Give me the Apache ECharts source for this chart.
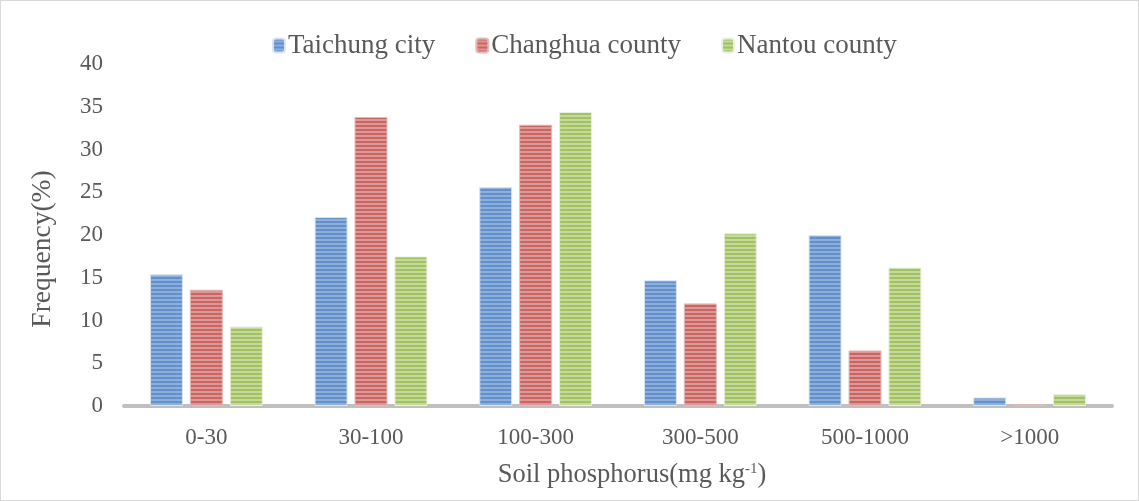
<!DOCTYPE html>
<html>
<head>
<meta charset="utf-8">
<script src="https://cdn.jsdelivr.net/npm/echarts@6/dist/echarts.min.js"></script>
<style>
  html, body { margin: 0; padding: 0; background: #fff; }
  #chart { width: 1139px; height: 501px; box-sizing: border-box; border: 1px solid #d9d9d9; }
</style>
</head>
<body>
<div id="chart"></div>
<script>
var categories = ["0-30", "30-100", "100-300", "300-500", "500-1000", ">1000"];
var taichung = [15.4, 22.1, 25.6, 14.7, 20.0, 1.0];
var changhua = [13.6, 33.8, 32.9, 12.0, 6.5, 0.2];
var nantou = [9.3, 17.5, 34.4, 20.2, 16.2, 1.4];

// horizontal stripe fill, like the original Excel pattern
function stripes(dark, light) {
  var c = document.createElement("canvas");
  c.width = 4;
  c.height = 4;
  var ctx = c.getContext("2d");
  ctx.fillStyle = light;
  ctx.fillRect(0, 0, 4, 4);
  ctx.fillStyle = dark;
  ctx.fillRect(0, 0, 4, 2);
  return { image: c, repeat: "repeat" };
}

var blue = stripes("#6390cb", "#8cafdc");
var red = stripes("#c96662", "#dc9896");
var green = stripes("#a2c160", "#c5d99d");

var myChart = echarts.init(document.getElementById("chart"));
var font = "Liberation Serif, Times New Roman, serif";

var option = {
  animation: false,
  legend: {
    top: 26,
    left: 266,
    itemWidth: 12,
    itemHeight: 14,
    itemGap: 40,
    textStyle: { fontFamily: font, fontSize: 27, color: "#595959", padding: [0, 0, 0, -2] },
    data: ["Taichung city", "Changhua county", "Nantou county"]
  },
  grid: { left: 123, right: 26, top: 63, bottom: 94 },
  xAxis: {
    type: "category",
    data: categories,
    axisLine: { lineStyle: { color: "#bfbfbf", width: 4 } },
    axisTick: { show: false },
    axisLabel: { fontFamily: font, fontSize: 23, color: "#595959", margin: 20 },
    name: "Soil phosphorus(mg kg{sup|-1})",
    nameLocation: "middle",
    nameGap: 56,
    nameTextStyle: {
      fontFamily: font, fontSize: 26.5, color: "#595959", padding: [0, 0, 0, 28],
      rich: { sup: { fontFamily: font, fontSize: 15, color: "#595959", verticalAlign: "top", padding: [0, 0, 10, 0] } }
    }
  },
  yAxis: {
    type: "value",
    min: 0,
    max: 40,
    interval: 5,
    splitLine: { show: false },
    axisLine: { show: false },
    axisTick: { show: false },
    axisLabel: { fontFamily: font, fontSize: 23, color: "#595959", margin: 21 },
    name: "Frequency(%)",
    nameLocation: "middle",
    nameGap: 67,
    nameTextStyle: { fontFamily: font, fontSize: 27.5, color: "#595959", padding: [0, 28, 0, 0] }
  },
  series: [
    {
      name: "Taichung city",
      type: "bar",
      barWidth: 33,
      barGap: "21%",
      itemStyle: { color: blue, borderColor: "#dbe5f1", borderWidth: 1 },
      data: taichung
    },
    {
      name: "Changhua county",
      type: "bar",
      barWidth: 33,
      barGap: "21%",
      itemStyle: { color: red, borderColor: "#e6b9b8", borderWidth: 1 },
      data: changhua
    },
    {
      name: "Nantou county",
      type: "bar",
      barWidth: 33,
      barGap: "21%",
      itemStyle: { color: green, borderColor: "#ebf1de", borderWidth: 1 },
      data: nantou
    }
  ]
};

option && myChart.setOption(option);
</script>
</body>
</html>
